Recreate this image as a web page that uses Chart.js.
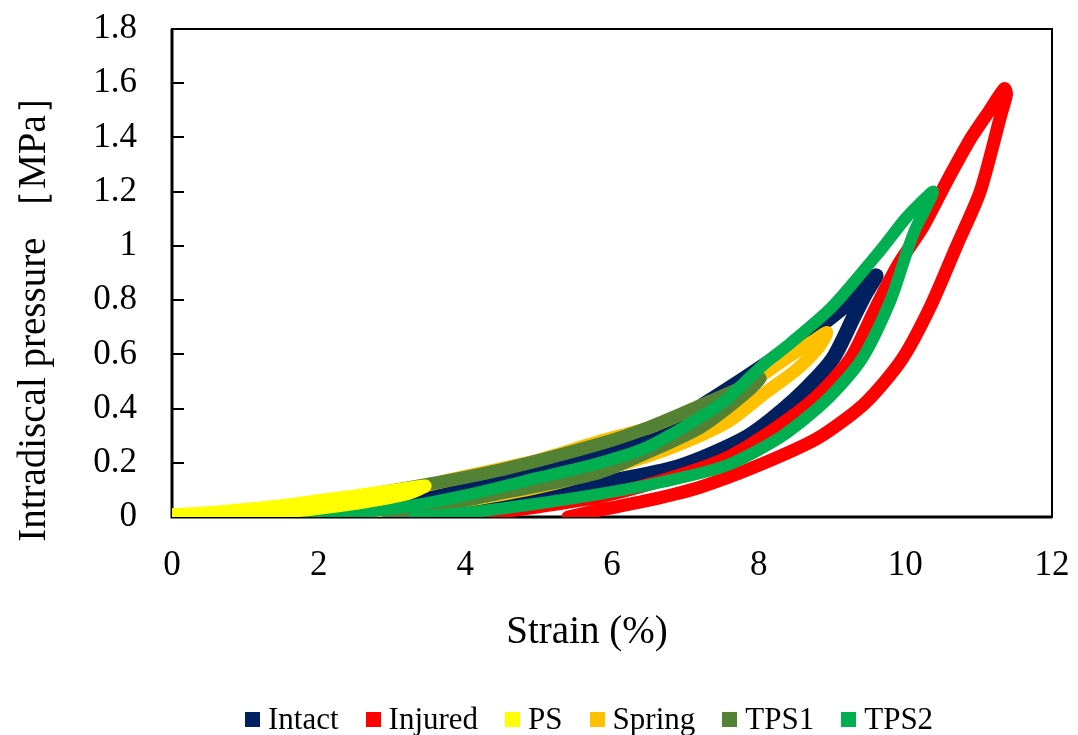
<!DOCTYPE html>
<html>
<head>
<meta charset="utf-8">
<script src="https://cdn.jsdelivr.net/npm/chart.js@4.4.1/dist/chart.umd.min.js"></script>
<style>
  body { margin: 0; background: #fff; }
  #wrap { position: relative; width: 1078px; height: 735px; overflow: hidden; }
  #legend { position: absolute; left: 245px; top: 704px; display: flex; align-items: center;
            font: 31px "Liberation Serif", serif; line-height: 30px; white-space: nowrap; color: #000; }
  .item { display: flex; align-items: center; margin-right: 27px; }
  .box { width: 15px; height: 15px; margin-right: 8px; }
</style>
</head>
<body>
<div id="wrap">
  <canvas id="myChart" width="1078" height="735"></canvas>
  <div id="legend"></div>
</div>
<script>
// series names / colours (legend order)
const seriesNames = ['Intact', 'Injured', 'PS', 'Spring', 'TPS1', 'TPS2'];
const seriesColors = ['#002060', '#FF0000', '#FFFF00', '#FFC000', '#548235', '#00B050'];

// each loop: loading branch up to the peak, then unloading branch back down
const intactX = [0, 0.5, 1, 2, 3, 4, 5, 5.8, 6.5, 7.1, 7.8, 8.4, 9.0, 9.35, 9.6, 9.45, 9.3, 9.0, 8.48, 7.84, 6.9, 5.84, 5, 4.3, 3.5];
const intactY = [0, 0.008, 0.018, 0.035, 0.06, 0.105, 0.17, 0.23, 0.3, 0.39, 0.51, 0.62, 0.74, 0.82, 0.89, 0.82, 0.74, 0.58, 0.43, 0.295, 0.185, 0.125, 0.08, 0.04, 0];

const injuredX = [0, 1, 2, 3, 4, 4.8, 5.84, 6.75, 7.5, 8.05, 8.73, 9.24, 9.6, 9.9, 10.24, 10.57, 10.9, 11.15, 11.35, 11.38, 11.3, 11.02, 10.7, 10.34, 9.95, 9.45, 8.8, 7.95, 7.2, 6.52, 5.84, 5.4];
const injuredY = [0, 0, 0, 0, 0.005, 0.03, 0.075, 0.14, 0.21, 0.295, 0.43, 0.58, 0.775, 0.93, 1.07, 1.24, 1.4, 1.5, 1.58, 1.56, 1.48, 1.2, 1.0, 0.775, 0.58, 0.42, 0.29, 0.185, 0.11, 0.063, 0.026, 0];

const psX = [0, 0.5, 1, 1.5, 2, 2.5, 3, 3.45, 3.2, 2.5, 2, 1.5, 1, 0.5, 0];
const psY = [0.008, 0.016, 0.028, 0.042, 0.06, 0.078, 0.097, 0.115, 0.085, 0.05, 0.032, 0.018, 0.008, 0.002, 0];

const springX = [0, 1, 2, 3, 4, 5, 5.84, 6.5, 7.2, 7.8, 8.4, 8.75, 8.93, 8.8, 8.5, 8.1, 7.57, 6.75, 5.84, 5, 4, 3, 1.9];
const springY = [0.006, 0.02, 0.05, 0.09, 0.15, 0.21, 0.28, 0.33, 0.41, 0.48, 0.59, 0.65, 0.68, 0.62, 0.54, 0.46, 0.35, 0.25, 0.17, 0.11, 0.06, 0.02, 0];

const tps1X = [0.3, 0.75, 1.5, 2.5, 3.48, 4.5, 5.84, 6.5, 7.2, 7.7, 8.02, 7.7, 7.2, 6.5, 5.84, 5, 4.24, 3.5, 2.95];
const tps1Y = [0, 0.018, 0.04, 0.075, 0.12, 0.175, 0.27, 0.33, 0.41, 0.47, 0.51, 0.43, 0.33, 0.24, 0.165, 0.115, 0.075, 0.03, 0];

const tps2X = [1.5, 2, 3, 4, 5, 5.84, 6.5, 7.5, 7.9, 8.1, 8.43, 9.0, 9.68, 10.0, 10.25, 10.38, 10.3, 10.15, 10.03, 9.8, 9.4, 8.92, 8.3, 7.56, 6.7, 5.84, 5, 4, 3.3];
const tps2Y = [0, 0.005, 0.03, 0.08, 0.145, 0.2, 0.26, 0.42, 0.52, 0.57, 0.64, 0.775, 0.99, 1.1, 1.17, 1.2, 1.15, 1.07, 0.985, 0.8, 0.58, 0.43, 0.295, 0.19, 0.13, 0.085, 0.05, 0.015, 0];

const xTicks = [0, 2, 4, 6, 8, 10, 12];
const yTicks = [0, 0.2, 0.4, 0.6, 0.8, 1, 1.2, 1.4, 1.6, 1.8];
const xTitle = 'Strain (%)';
const yTitle = 'Intradiscal pressure ［MPa］';

const seriesX = [intactX, injuredX, psX, springX, tps1X, tps2X];
const seriesY = [intactY, injuredY, psY, springY, tps1Y, tps2Y];
const lineWidths = [15, 13, 13, 13, 13, 12];

const FONT = '"Liberation Serif", "Times New Roman", serif';

// plot frame under the curves, axis titles
const framePlugin = {
  id: 'frame',
  beforeDatasetsDraw(chart) {
    const { ctx, chartArea: a } = chart;
    ctx.save();
    ctx.strokeStyle = '#000';
    ctx.lineWidth = 2;
    ctx.strokeRect(a.left, a.top, a.right - a.left, a.bottom - a.top);
    ctx.lineWidth = 3;
    ctx.beginPath();
    ctx.moveTo(a.left, a.top);
    ctx.lineTo(a.left, a.bottom);
    ctx.lineTo(a.right, a.bottom);
    ctx.stroke();
    ctx.restore();
  },
  afterDraw(chart) {
    const { ctx, chartArea: a } = chart;
    ctx.save();
    ctx.fillStyle = '#000';
    ctx.font = '39px ' + FONT;
    ctx.textAlign = 'center';
    ctx.textBaseline = 'alphabetic';
    ctx.fillText(xTitle, a.left + 415, a.bottom + 126);
    ctx.translate(45, a.top + 280);
    ctx.rotate(-Math.PI / 2);
    ctx.fillText(yTitle, 0, 0);
    ctx.restore();
  }
};

// keep tick padding from pushing the plot area in
const noPad = s => { s.paddingTop = 0; s.paddingBottom = 0; s.paddingLeft = 0; s.paddingRight = 0; };

const ctx = document.getElementById('myChart');
new Chart(ctx, {
  type: 'scatter',
  data: {
    datasets: seriesNames.map((name, i) => ({
      label: name,
      data: seriesX[i].map((x, j) => ({ x: x, y: seriesY[i][j] })),
      showLine: true,
      borderColor: seriesColors[i],
      backgroundColor: seriesColors[i],
      borderWidth: lineWidths[i],
      borderJoinStyle: 'round',
      borderCapStyle: 'round',
      pointRadius: 0,
      tension: 0.25,
      // later series drawn on top, PS on top of all
      order: name === 'PS' ? 0 : seriesNames.length - i
    }))
  },
  options: {
    responsive: false,
    animation: false,
    layout: { padding: { top: 29, right: 26, bottom: 0, left: 0 } },
    plugins: {
      legend: { display: false },
      tooltip: { enabled: false }
    },
    scales: {
      x: {
        type: 'linear',
        min: 0,
        max: 12,
        afterBuildTicks: s => { s.ticks = xTicks.map(v => ({ value: v })); },
        afterFit: s => { s.height = 218; noPad(s); },
        grid: { display: false, drawTicks: false },
        border: { display: false },
        ticks: { color: '#000', font: { family: FONT, size: 35 }, padding: 28, maxRotation: 0 }
      },
      y: {
        type: 'linear',
        min: 0,
        max: 1.8,
        afterBuildTicks: s => { s.ticks = yTicks.map(v => ({ value: v })); },
        afterFit: s => { s.width = 172; noPad(s); },
        grid: { drawOnChartArea: false, drawTicks: true, tickLength: -12, color: '#000', lineWidth: 2 },
        border: { display: false },
        ticks: { color: '#000', font: { family: FONT, size: 35 }, padding: 47, callback: v => String(v) }
      }
    }
  },
  plugins: [framePlugin]
});

// legend below the chart
const legend = document.getElementById('legend');
seriesNames.forEach((name, i) => {
  const item = document.createElement('div');
  item.className = 'item';
  const box = document.createElement('span');
  box.className = 'box';
  box.style.background = seriesColors[i];
  const txt = document.createElement('span');
  txt.textContent = name;
  item.appendChild(box);
  item.appendChild(txt);
  legend.appendChild(item);
});
</script>
</body>
</html>
